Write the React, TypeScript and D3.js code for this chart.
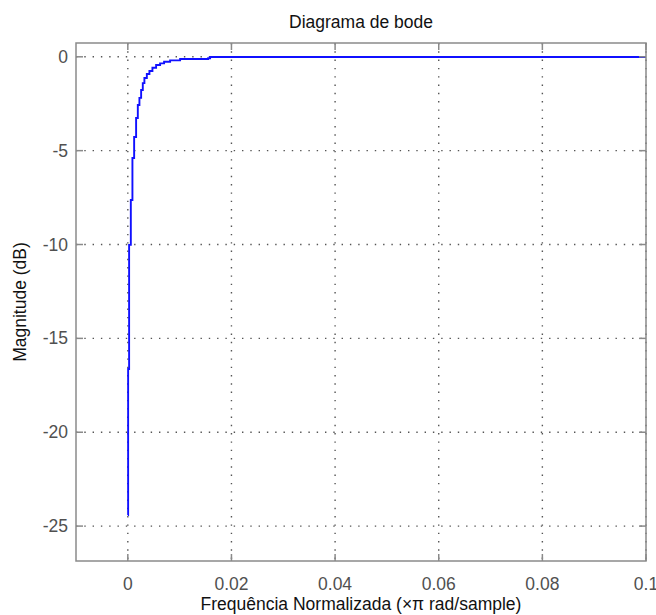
import React, { useEffect, useRef } from "react";
import * as d3 from "d3";

// normalized frequency (x pi rad/sample) and magnitude (dB)
const freqs = [
  0, 0.00006, 0.00025, 0.00058, 0.00089, 0.00122, 0.0016, 0.00193, 0.00224,
  0.00257, 0.00289, 0.0032, 0.00367, 0.00417, 0.00475, 0.00546, 0.00623,
  0.007, 0.00816, 0.01009, 0.0155, 0.01588, 0.1,
];
const magDb = [
  -24.41, -16.63, -10.02, -7.63, -5.39, -4.27, -3.26, -2.57, -2.19, -1.77,
  -1.4, -1.13, -0.92, -0.76, -0.58, -0.44, -0.35, -0.26, -0.19, -0.12, -0.08,
  -0.01, 0,
];
const xTicks = [0, 0.02, 0.04, 0.06, 0.08, 0.1];
const yTicks = [0, -5, -10, -15, -20, -25];

const BodePlot = () => {
  const svgRef = useRef<SVGSVGElement>(null);

  useEffect(() => {
    const width = 656,
      height = 615;
    const box = { left: 76, right: 646, top: 43, bottom: 561 };
    const font = "'Liberation Sans', Arial, sans-serif";
    const fs = 17.5;

    const svg = d3.select(svgRef.current);
    svg.selectAll("*").remove();
    svg.attr("width", width).attr("height", height);

    svg.append("rect").attr("width", width).attr("height", height).attr("fill", "#fff");

    const x = d3.scaleLinear().domain([-0.01, 0.1]).range([box.left, box.right]);
    const y = d3.scaleLinear().domain([-26.86, 0.735]).range([box.bottom, box.top]);

    svg
      .append("clipPath")
      .attr("id", "plotclip")
      .append("rect")
      .attr("x", box.left)
      .attr("y", box.top)
      .attr("width", box.right - box.left)
      .attr("height", box.bottom - box.top);

    // dotted grid
    const grid = svg
      .append("g")
      .attr("stroke", "#555")
      .attr("stroke-width", 1.4)
      .attr("stroke-dasharray", "1.4,6.9");
    grid
      .selectAll("line.gx")
      .data(xTicks)
      .enter()
      .append("line")
      .attr("x1", (d) => x(d))
      .attr("x2", (d) => x(d))
      .attr("y1", box.top)
      .attr("y2", box.bottom);
    grid
      .selectAll("line.gy")
      .data(yTicks)
      .enter()
      .append("line")
      .attr("x1", box.left)
      .attr("x2", box.right)
      .attr("y1", (d) => y(d))
      .attr("y2", (d) => y(d));

    // response curve (sampled, drawn as a staircase like the original render)
    const pts = freqs.map((f, i) => [f, magDb[i]] as [number, number]);
    svg
      .append("path")
      .datum(pts)
      .attr("clip-path", "url(#plotclip)")
      .attr("fill", "none")
      .attr("stroke", "#1010ff")
      .attr("stroke-width", 1.9)
      .attr(
        "d",
        d3
          .line<[number, number]>()
          .curve(d3.curveStepAfter)
          .x((d) => x(d[0]))
          .y((d) => y(d[1]))
      );

    // frame + inner ticks
    const axisColor = "#8a8a8a";
    svg
      .append("rect")
      .attr("x", box.left)
      .attr("y", box.top)
      .attr("width", box.right - box.left)
      .attr("height", box.bottom - box.top)
      .attr("fill", "none")
      .attr("stroke", axisColor)
      .attr("stroke-width", 1.5);

    const tickLen = 7;
    const ticks = svg.append("g").attr("stroke", axisColor).attr("stroke-width", 1.5);
    xTicks.forEach((t) => {
      ticks.append("line").attr("x1", x(t)).attr("x2", x(t)).attr("y1", box.bottom).attr("y2", box.bottom - tickLen);
      ticks.append("line").attr("x1", x(t)).attr("x2", x(t)).attr("y1", box.top).attr("y2", box.top + tickLen);
    });
    yTicks.forEach((t) => {
      ticks.append("line").attr("y1", y(t)).attr("y2", y(t)).attr("x1", box.left).attr("x2", box.left + tickLen);
      ticks.append("line").attr("y1", y(t)).attr("y2", y(t)).attr("x1", box.right).attr("x2", box.right - tickLen);
    });

    // tick labels
    const fmtX = d3.format("~g");
    svg
      .append("g")
      .selectAll("text")
      .data(xTicks)
      .enter()
      .append("text")
      .attr("x", (d) => x(d))
      .attr("y", 590)
      .attr("text-anchor", "middle")
      .attr("font-family", font)
      .attr("font-size", fs)
      .attr("fill", "#505050")
      .text((d) => fmtX(d));

    svg
      .append("g")
      .selectAll("text")
      .data(yTicks)
      .enter()
      .append("text")
      .attr("x", 68)
      .attr("y", (d) => y(d) + 6)
      .attr("text-anchor", "end")
      .attr("font-family", font)
      .attr("font-size", fs)
      .attr("fill", "#505050")
      .text((d) => d);

    // titles
    svg
      .append("text")
      .attr("x", (box.left + box.right) / 2)
      .attr("y", 28)
      .attr("text-anchor", "middle")
      .attr("font-family", font)
      .attr("font-size", fs)
      .attr("fill", "#111")
      .text("Diagrama de bode");

    svg
      .append("text")
      .attr("x", (box.left + box.right) / 2)
      .attr("y", 610)
      .attr("text-anchor", "middle")
      .attr("font-family", font)
      .attr("font-size", fs)
      .attr("fill", "#111")
      .text("Frequência Normalizada (×π rad/sample)");

    svg
      .append("text")
      .attr("transform", `translate(26, ${(box.top + box.bottom) / 2}) rotate(-90)`)
      .attr("text-anchor", "middle")
      .attr("font-family", font)
      .attr("font-size", fs)
      .attr("fill", "#111")
      .text("Magnitude (dB)");
  }, []);

  return <svg ref={svgRef} style={{ position: "absolute", left: 0, top: 0 }}></svg>;
};

export default function App() {
  return <BodePlot />;
}
